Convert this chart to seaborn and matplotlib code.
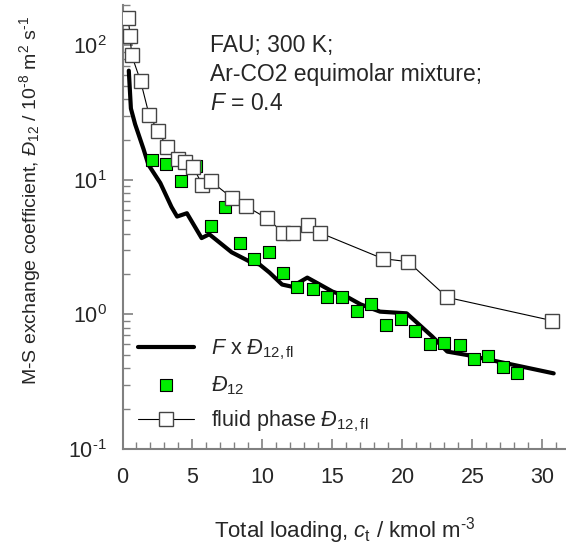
import matplotlib
matplotlib.use("Agg")
import matplotlib.pyplot as plt
from matplotlib.ticker import MultipleLocator, LogLocator, NullFormatter, FuncFormatter
import numpy as np
import seaborn as sns
import pandas as pd

# ---- data ----
line_x = [0.45, 0.6, 0.9, 1.5, 1.85, 2.7, 3.5, 3.9, 4.6, 5.65, 6.2, 7.8, 9.1, 9.8,
          10.5, 11.4, 12.1, 13.2, 14.1, 15.0, 16.0, 17.0, 18.4, 20.3, 22.1, 23.2,
          24.6, 30.8]
line_y = [65, 34, 26, 17, 13, 9.5, 6.3, 5.35, 5.66, 3.7, 3.95, 2.9, 2.47, 2.35,
          2.05, 1.67, 1.61, 1.88, 1.67, 1.48, 1.36, 1.19, 1.05, 1.02, 0.69, 0.53,
          0.5, 0.365]

d12_x = [2.1, 3.1, 4.18, 5.25, 6.3, 7.3, 8.4, 9.4, 10.45, 11.5, 12.5, 13.6, 14.6,
         15.7, 16.75, 17.75, 18.8, 19.9, 20.9, 22.0, 23.0, 24.1, 25.1, 26.1, 27.2,
         28.2]
d12_y = [14.1, 13.1, 9.8, 12.7, 4.56, 6.35, 3.4, 2.6, 2.93, 2.05, 1.61, 1.56, 1.34,
         1.34, 1.07, 1.19, 0.84, 0.92, 0.75, 0.60, 0.61, 0.59, 0.47, 0.49, 0.405,
         0.365]

fl_x = [0.4, 0.55, 0.65, 1.3, 1.9, 2.55, 3.2, 4.0, 4.5, 5.05, 5.7, 6.3, 7.8, 8.8,
        10.3, 11.5, 12.2, 13.25, 14.1, 18.6, 20.4, 23.2, 30.7]
fl_y = [161, 117, 85, 54, 30.5, 23, 17.5, 14.3, 13.6, 12.5, 9.2, 9.8, 7.4, 6.4,
        5.2, 4.05, 4.05, 4.65, 4.05, 2.6, 2.47, 1.34, 0.9]

x_ticks = [0, 5, 10, 15, 20, 25, 30]

HY = "\u2010"  # hyphen used in superscripts
label_line = r"$\mathit{F}$ x $\mathit{Đ}_{12,\mathrm{fl}}$"
label_d12 = r"$\mathit{Đ}_{12}$"
label_fl = r"fluid phase $\mathit{Đ}_{12,\mathrm{fl}}$"
xlabel = r"Total loading, $\mathit{c}_{\mathrm{t}}$ / kmol m$^{" + HY + "3}$"
ylabel = (r"M-S exchange coefficient, $\mathit{Đ}_{12}$ / 10$^{" + HY + "8}$ m$^{2}$ s$^{"
          + HY + "1}$")
note = "FAU; 300 K;\nAr-CO2 equimolar mixture;\n$\\mathit{F}$ = 0.4"

df_line = pd.DataFrame({"x": line_x, "y": line_y})
df_d12 = pd.DataFrame({"x": d12_x, "y": d12_y})
df_fl = pd.DataFrame({"x": fl_x, "y": fl_y})

sns.set_style("ticks")
plt.rcParams["font.family"] = ["Liberation Sans", "DejaVu Sans"]
plt.rcParams["mathtext.fontset"] = "custom"
plt.rcParams["mathtext.rm"] = "Liberation Sans"
plt.rcParams["mathtext.it"] = "Liberation Sans:italic"
plt.rcParams["mathtext.bf"] = "Liberation Sans:bold"

fig = plt.figure(figsize=(5.66, 5.47), dpi=100)
ax = fig.add_axes([122.5 / 566, 1 - 449 / 547, 443.5 / 566, 444 / 547])

sns.lineplot(data=df_line, x="x", y="y", ax=ax, sort=False, color="black",
             linewidth=3.0, label=label_line, zorder=2)
sns.scatterplot(data=df_d12, x="x", y="y", ax=ax, marker="s", s=85,
                color="#00ee00", edgecolor="black", linewidth=0.8,
                label=label_d12, zorder=3)
sns.lineplot(data=df_fl, x="x", y="y", ax=ax, sort=False, color="black",
             linewidth=0.8, marker="s", markersize=10, markerfacecolor="white",
             markeredgecolor="#444444", markeredgewidth=1.0,
             label=label_fl, zorder=4)

ax.set_yscale("log")
ax.set_xlim(0, 31.68)
ax.set_ylim(0.1, 200)
ax.set_xticks(x_ticks)
ax.xaxis.set_minor_locator(MultipleLocator(1))
ax.yaxis.set_major_locator(LogLocator(base=10))
ax.yaxis.set_minor_locator(LogLocator(base=10, subs=range(2, 10)))
ax.yaxis.set_minor_formatter(NullFormatter())


def log_fmt(v, pos):
    e = int(round(np.log10(v)))
    return "10$^{" + str(e).replace("-", HY) + "}$"


ax.yaxis.set_major_formatter(FuncFormatter(log_fmt))

for s in ["top", "right"]:
    ax.spines[s].set_visible(False)
for s in ["left", "bottom"]:
    ax.spines[s].set_color("#808080")
    ax.spines[s].set_linewidth(1.5)

ax.tick_params(which="both", direction="in", color="#808080", labelsize=15.5)
ax.tick_params(which="major", length=7, width=1.2)
ax.tick_params(which="minor", length=5, width=1.0)
ax.tick_params(axis="x", which="major", pad=13)
ax.tick_params(axis="y", which="major", pad=11)

ax.set_xlabel(xlabel, fontsize=16)
ax.set_ylabel(ylabel, fontsize=14)
ax.xaxis.set_label_coords(0.5, -0.148)
ax.yaxis.set_label_coords(-0.18, 0.56)

ax.text(0.197, 0.935, note, transform=ax.transAxes, fontsize=16.5, va="top",
        ha="left", linespacing=1.33)

leg = ax.legend(loc="lower left", bbox_to_anchor=(0.0, 0.0), frameon=False,
                fontsize=15.5, handlelength=2.6, handletextpad=0.8,
                labelspacing=0.55, borderaxespad=0.3)

fig.savefig("out.png", dpi=100)
